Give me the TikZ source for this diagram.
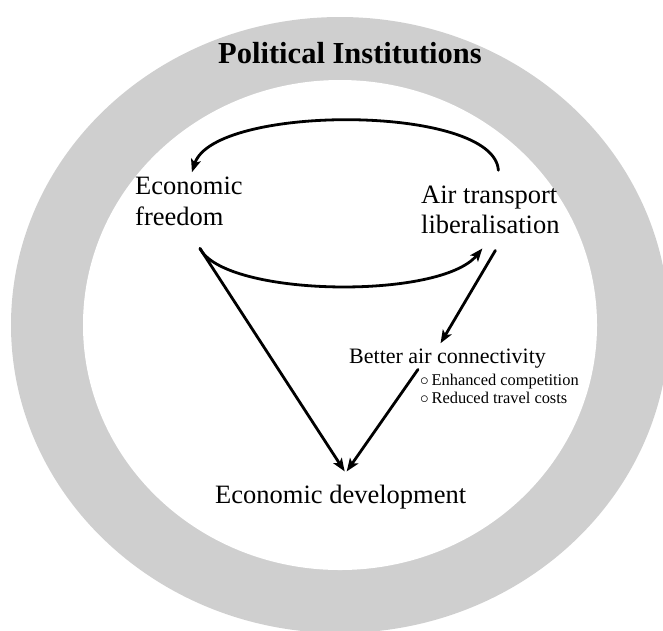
\documentclass[tikz,border=0pt]{standalone}
\usepackage{fontspec}
\setmainfont{Liberation Serif}
\usetikzlibrary{arrows.meta}
\definecolor{ringgray}{RGB}{207,207,207}

\begin{document}
\begin{tikzpicture}[x=1pt, y=-1pt,
	txt/.style = {inner sep=0pt, anchor=base west, align=left, font=\fontsize{26.5}{31}\selectfont},
	arr/.style = {line width=2.8pt, line cap=round, -{Stealth[length=13pt, width=10pt, inset=3pt]}}]
	\useasboundingbox (0,0) rectangle (663,630);
	\clip (0,0) rectangle (663,630);
	\fill[ringgray] (340,325) ellipse [x radius=329, y radius=308];
	\fill[white] (340,325) ellipse [x radius=257, y radius=245];
	\node[inner sep=0pt, anchor=base, font=\bfseries\fontsize{30.5}{36}\selectfont] (pi) at (350,63) {Political Institutions};
	\node[txt] (ef) at (135,225) {Economic\\freedom};
	\node[txt, font=\fontsize{26.5}{30}\selectfont] (atl) at (421,233) {Air transport\\liberalisation};
	\node[txt, font=\fontsize{22}{26}\selectfont] (bac) at (349,363) {Better air connectivity};
	\node[txt, font=\fontsize{16.4}{18}\selectfont] (bul) at (420,403) {$\circ$\,Enhanced competition\\$\circ$\,Reduced travel costs};
	\node[txt] (ed) at (215,503) {Economic development};
	\draw[arr] ([shift={(8,-15)}]atl.north) .. controls (494,104) and (214,104) .. ([shift={(3,-4)}]ef.north);
	\draw[arr] ([shift={(11,23)}]ef.south) .. controls (225,297) and (440,300) .. ([shift={(-8,15)}]atl.south);
	\draw[arr] ([shift={(5,17)}]atl.south) -- ([shift={(-7,-5)}]bac.north);
	\draw[arr] ([shift={(11,23)}]ef.south) -- ([shift={(4,-13)}]ed.north);
	%\draw[arr] (bac.south) -- (ed.north);
	\draw[arr] ([shift={(-2,-4)}]bul.north west) -- ([shift={(6,-13)}]ed.north);
\end{tikzpicture}
\end{document}
